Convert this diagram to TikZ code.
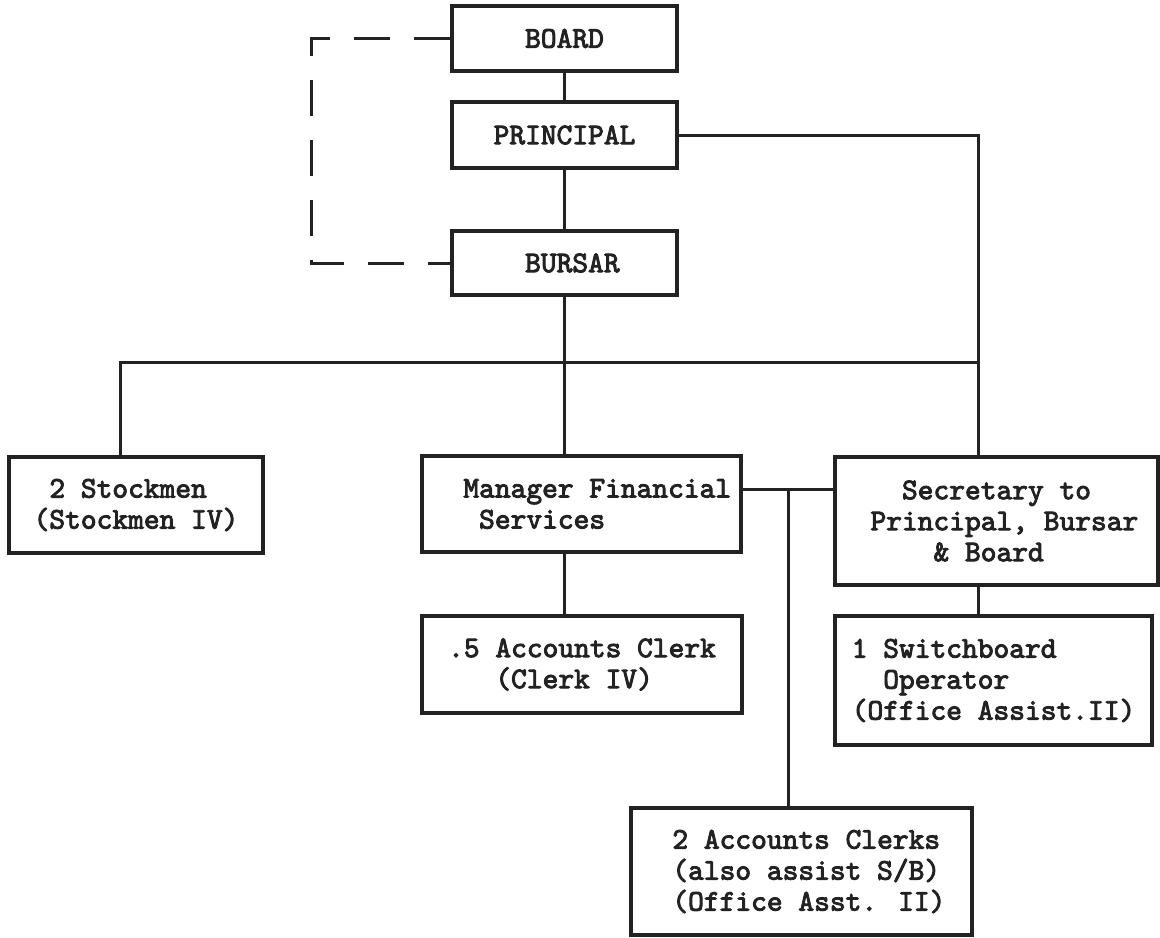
\documentclass[tikz,border=0pt]{standalone}
\usepackage{fontspec}
% heavy typewriter face
\newfontfamily\typewriter{lmmono10-regular.otf}[FakeBold=3]
% one monospace character cell (Latin Modern Mono advance = 0.525em)
\newcommand\cs[1]{\hspace*{#1\dimexpr0.525em\relax}}
\definecolor{ink}{RGB}{34,34,34}

\begin{document}
\begin{tikzpicture}[
  x=0.5pt, y={(0pt,-0.5pt)},
  box/.style={draw=ink, line width=2pt, inner sep=0pt, align=left, text=ink,
              font=\typewriter\fontsize{15}{15.5}\selectfont},
  link/.style={draw=ink, line width=1.5pt},
  dotted link/.style={link, dash pattern=on 18pt off 12pt}
]
% page
\fill[white] (0,0) rectangle (1160,937);
\useasboundingbox (0,0) rectangle (1160,937);

% positions
\node[box, minimum width=112.5pt, minimum height=32.5pt] (board)     at (564.5,38.5) {BOARD};
\node[box, minimum width=112.5pt, minimum height=33pt]   (principal) at (564.5,135)  {PRINCIPAL};
\node[box, minimum width=112.5pt, minimum height=32pt]   (bursar)    at (564.5,263)  {\cs{1}BURSAR};

\node[box, minimum width=127pt, minimum height=48pt] (stock) at (136,505)
  {\cs{1}2 Stockmen\\(Stockmen IV)};
\node[box, minimum width=159.5pt, minimum height=48pt] (manager) at (581.5,504)
  {\cs{2}Manager Financial\\\cs{3}Services};
\node[box, minimum width=161.5pt, minimum height=64pt] (secretary) at (996.5,521)
  {\cs{3}Secretary to\\\cs{1}Principal, Bursar\\\cs{5}\& Board};
\node[box, minimum width=160pt, minimum height=48.5pt] (clerk) at (582,664.5)
  {.5 Accounts Clerk\\\cs{3}(Clerk IV)};
\node[box, minimum width=158.5pt, minimum height=64.5pt] (switch) at (993.5,680.5)
  {1 Switchboard\\\cs{2}Operator\\(Office Assist.II)};
\node[box, minimum width=170.5pt, minimum height=63.5pt] (clerks) at (801,871.5)
  {\cs{1}2 Accounts Clerks\\\cs{1}(also assist S/B)\\\cs{1}(Office Asst. II)};

% junction points
\coordinate (busL) at (120,362);
\coordinate (busR) at (978,362);
\coordinate (mfs)  at (788,489);
\coordinate (loop) at (311,0);

% solid connectors
\draw[link] (board) -- (principal);
\draw[link] (principal) -- (bursar);
\draw[link] (bursar.south) -- (bursar.south |- manager.north);
\draw[link] (busL |- stock.north) -- (busL) -- (busR);
\draw[link] (principal.east) -| (busR |- secretary.north);
\draw[link] (manager.south -| bursar.south) -- (clerk.north -| bursar.south);
\draw[link] (manager.east |- mfs) -- (secretary.west |- mfs);
\draw[link] (mfs) -- (mfs |- clerks.north);
\draw[link] (secretary.south -| busR) -- (switch.north -| busR);

% dashed link between board and bursar
\draw[dotted link] (board.west) -- (board.west -| loop) -- (bursar.west -| loop) -- (bursar.west);
\end{tikzpicture}
\end{document}
